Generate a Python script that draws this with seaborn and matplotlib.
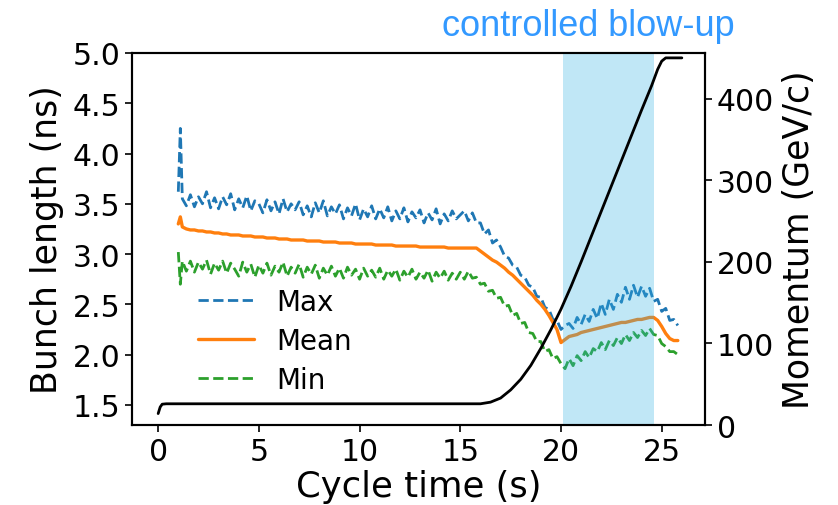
import numpy as np
import pandas as pd
import seaborn as sns
import matplotlib
matplotlib.use("Agg")
import matplotlib.pyplot as plt

# ---- data -----------------------------------------------------------------
# sample times (s) of the bunch-length measurements
times = [1.0, 1.1] + [round(v, 1) for v in np.arange(1.2, 25.81, 0.2)]

bl_max = [3.62, 4.25, 3.55,
          3.48, 3.59, 3.47, 3.57, 3.50, 3.62, 3.46, 3.56,
          3.45, 3.57, 3.49, 3.60, 3.44, 3.55, 3.46, 3.58, 3.43, 3.53,
          3.50, 3.41, 3.54, 3.43, 3.52, 3.40, 3.55, 3.42, 3.50, 3.44,
          3.52, 3.39, 3.48, 3.37, 3.51, 3.41, 3.53, 3.38, 3.47, 3.40,
          3.49, 3.35, 3.46, 3.38, 3.50, 3.34, 3.45, 3.37, 3.48, 3.35,
          3.45, 3.36, 3.47, 3.33, 3.43, 3.35, 3.46, 3.32, 3.42, 3.36,
          3.44, 3.31, 3.41, 3.34, 3.45, 3.30, 3.40, 3.33, 3.43, 3.35,
          3.39, 3.43, 3.33, 3.41, 3.31, 3.31, 3.20, 3.24, 3.11, 3.14,
          3.07, 2.98, 2.96, 2.89, 2.87, 2.79, 2.77, 2.69, 2.67, 2.58,
          2.57, 2.47, 2.45, 2.35, 2.34, 2.25, 2.29, 2.31, 2.26, 2.37,
          2.30, 2.40, 2.33, 2.45, 2.36, 2.51, 2.40, 2.55, 2.45, 2.60,
          2.52, 2.67, 2.55, 2.69, 2.57, 2.68, 2.58, 2.66, 2.53, 2.55,
          2.43, 2.46, 2.34, 2.35, 2.29]

bl_mean = [3.30, 3.37, 3.27,
           3.25, 3.24, 3.24, 3.23, 3.23, 3.22, 3.22, 3.21,
           3.21, 3.20, 3.20, 3.19, 3.19, 3.19, 3.18, 3.18, 3.18, 3.17,
           3.17, 3.17, 3.16, 3.16, 3.16, 3.15, 3.15, 3.15, 3.14, 3.14,
           3.14, 3.14, 3.13, 3.13, 3.13, 3.13, 3.12, 3.12, 3.12, 3.12,
           3.11, 3.11, 3.11, 3.11, 3.10, 3.10, 3.10, 3.10, 3.10, 3.09,
           3.09, 3.09, 3.09, 3.09, 3.08, 3.08, 3.08, 3.08, 3.08, 3.08,
           3.07, 3.07, 3.07, 3.07, 3.07, 3.07, 3.07, 3.06, 3.06, 3.06,
           3.06, 3.06, 3.06, 3.06, 3.06, 3.03, 3.00, 2.97, 2.94, 2.92,
           2.89, 2.86, 2.82, 2.79, 2.75, 2.71, 2.67, 2.63, 2.59, 2.54,
           2.50, 2.45, 2.39, 2.32, 2.25, 2.12, 2.15, 2.18, 2.19, 2.20,
           2.22, 2.23, 2.24, 2.25, 2.26, 2.27, 2.28, 2.29, 2.30, 2.31,
           2.32, 2.32, 2.33, 2.34, 2.35, 2.35, 2.36, 2.37, 2.37, 2.34,
           2.28, 2.21, 2.16, 2.14, 2.14]

bl_min = [3.02, 2.70, 2.93,
          2.83, 2.93, 2.82, 2.92, 2.85, 2.94, 2.80, 2.91,
          2.84, 2.93, 2.81, 2.91, 2.85, 2.78, 2.92, 2.82, 2.90, 2.77,
          2.89, 2.81, 2.91, 2.79, 2.88, 2.82, 2.92, 2.78, 2.87, 2.81,
          2.90, 2.77, 2.87, 2.80, 2.89, 2.76, 2.86, 2.79, 2.88, 2.78,
          2.86, 2.76, 2.87, 2.79, 2.85, 2.75, 2.86, 2.78, 2.84, 2.77,
          2.86, 2.75, 2.84, 2.78, 2.85, 2.74, 2.83, 2.77, 2.85, 2.75,
          2.82, 2.76, 2.84, 2.73, 2.82, 2.76, 2.83, 2.74, 2.81, 2.75,
          2.82, 2.75, 2.83, 2.76, 2.77, 2.70, 2.71, 2.63, 2.64, 2.56,
          2.57, 2.48, 2.49, 2.39, 2.41, 2.31, 2.32, 2.22, 2.21, 2.13,
          2.13, 2.03, 2.05, 1.96, 1.98, 1.91, 1.86, 1.96, 1.89, 1.99,
          1.94, 2.03, 1.97, 2.06, 2.03, 2.12, 2.05, 2.14, 2.09, 2.17,
          2.11, 2.20, 2.14, 2.22, 2.17, 2.24, 2.19, 2.26, 2.20, 2.19,
          2.11, 2.08, 2.03, 2.03, 2.00]

mom_t = [0.0, 0.1, 0.2, 0.4, 16.0, 16.5, 17.0, 17.5, 18.0, 18.5, 19.0, 19.5,
         20.0, 20.5, 21.0, 21.5, 22.0, 22.5, 23.0, 23.5, 24.0, 24.5, 24.8,
         25.0, 25.2, 26.0]
mom_p = [14, 22, 25.5, 26, 26, 28, 33, 43, 56, 73, 94, 117,
         142, 170, 200, 231, 262, 293, 324, 355, 386, 416, 436,
         446, 450, 450]

series_labels = ["Max", "Mean", "Min"]
blowup_start, blowup_end = 20.1, 24.6

df = pd.DataFrame({"t": times, "Max": bl_max, "Mean": bl_mean, "Min": bl_min})
mom = pd.DataFrame({"t": mom_t, "p": mom_p})

# ---- style ----------------------------------------------------------------
sns.set_theme(style="ticks")
plt.rcParams["font.family"] = ["DejaVu Sans"]
for k in ("text.color", "axes.labelcolor", "xtick.color", "ytick.color",
          "axes.edgecolor"):
    plt.rcParams[k] = "black"

fig = plt.figure(figsize=(8.38, 5.06), dpi=100)
ax = fig.add_axes([0.1575, 0.1581, 0.6838, 0.7352])

styles = {"Max": ("#1f77b4", "--", 2.0), "Mean": ("#ff7f0e", "-", 2.4),
          "Min": ("#2ca02c", "--", 2.0)}
for name in series_labels:
    c, ls, lw = styles[name]
    sns.lineplot(data=df, x="t", y=name, ax=ax, color=c, linestyle=ls,
                 linewidth=lw, label=name, sort=False)

ax.set_xlim(-1.3, 27.15)
ax.set_ylim(1.3, 5.0)
ax.set_xticks([0, 5, 10, 15, 20, 25])
yt = [1.5, 2.0, 2.5, 3.0, 3.5, 4.0, 4.5, 5.0]
ax.set_yticks(yt)
ax.set_yticklabels([f"{v:.1f}" for v in yt])
ax.set_xlabel("Cycle time (s)", fontsize=25.5, labelpad=2)
ax.set_ylabel("Bunch length (ns)", fontsize=25, labelpad=6)
ax.tick_params(labelsize=21.5, length=5, width=1.2, colors="black")

ax2 = ax.twinx()
ax2.axvspan(blowup_start, blowup_end, color="#30b2e4", alpha=0.3, lw=0)
sns.lineplot(data=mom, x="t", y="p", ax=ax2, color="black", linewidth=2)
ax2.set_ylim(0, 456)
ax2.set_yticks([0, 100, 200, 300, 400])
ax2.set_ylabel("Momentum (GeV/c)", fontsize=25, labelpad=6)
ax2.tick_params(labelsize=21.5, length=5, width=1.2, colors="black")
ax2.set_xlim(-1.3, 27.15)

for a in (ax, ax2):
    for s in a.spines.values():
        s.set_visible(True)
        s.set_color("black")
        s.set_linewidth(1.5)

leg = ax.legend(frameon=False, fontsize=20, handlelength=2.0,
                handletextpad=0.8, labelspacing=0.4,
                loc="upper left", bbox_to_anchor=(0.0716, 0.436))

fig.text(441.7 / 838, 1 - 36 / 506, "controlled blow-up", color="#3399ff",
         fontsize=26, family=["Liberation Sans", "DejaVu Sans"],
         ha="left", va="baseline")

fig.savefig("out.png", dpi=100)
